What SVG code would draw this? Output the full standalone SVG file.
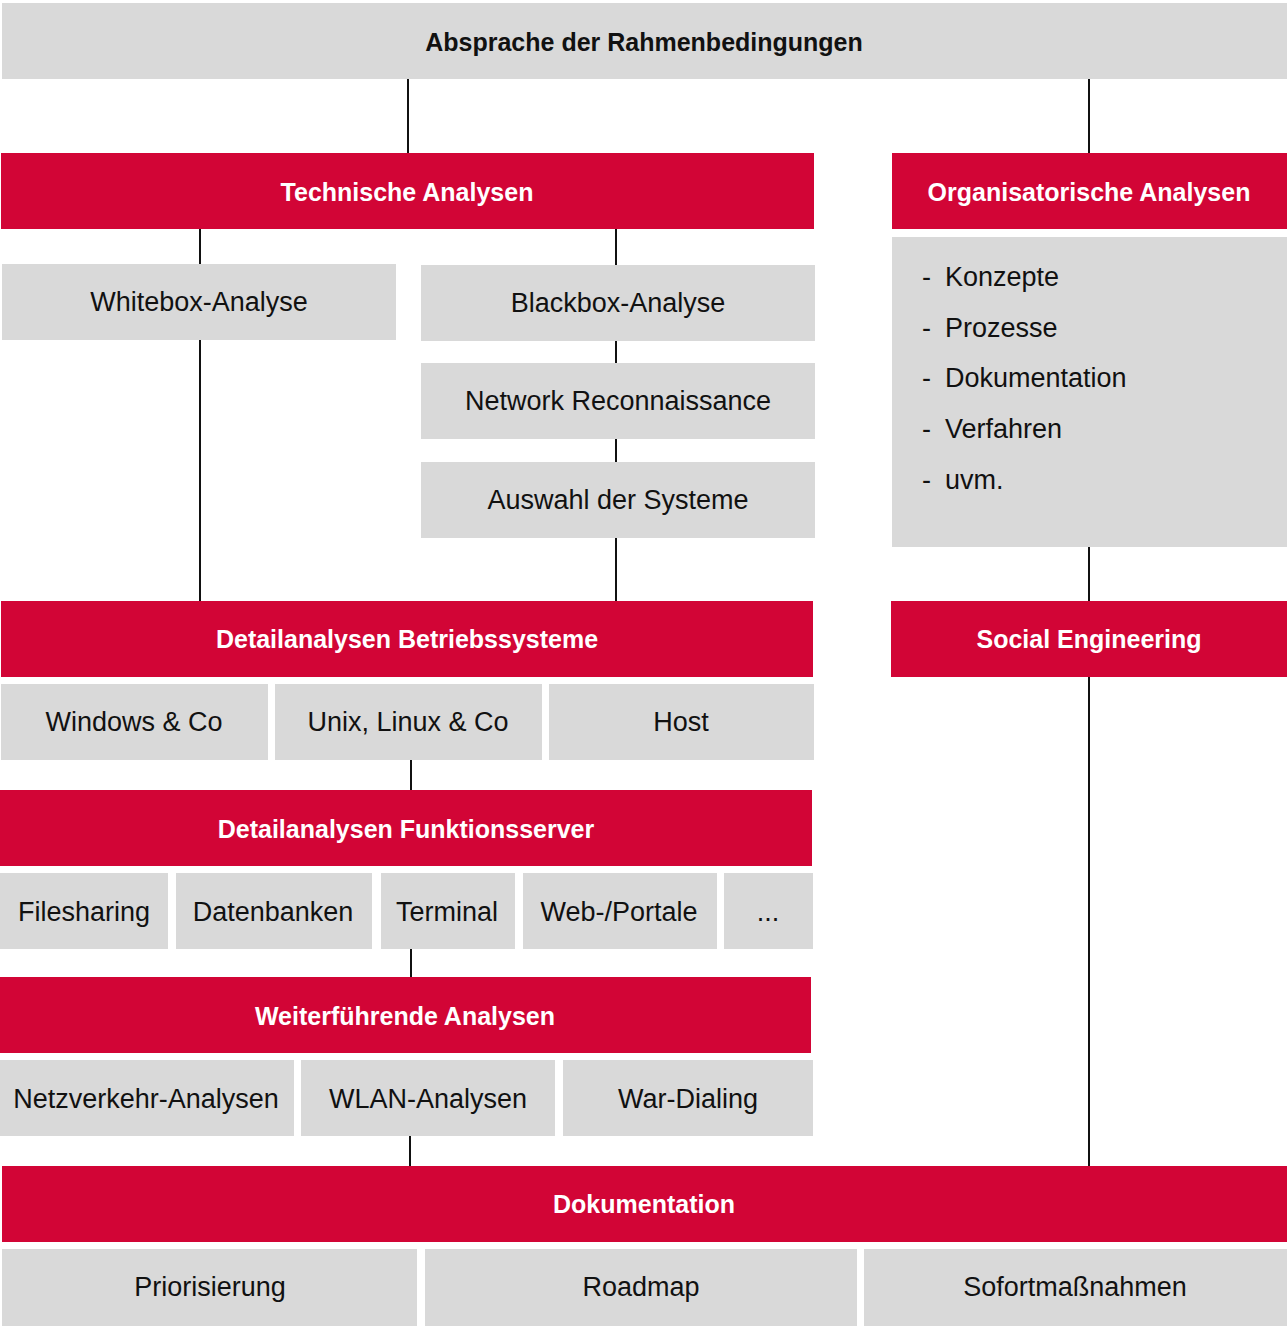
<svg xmlns="http://www.w3.org/2000/svg" width="1287" height="1326" viewBox="0 0 1287 1326">
<style>
.g{fill:#d9d9d9}
.r{fill:#d20536}
.t{font-family:"Liberation Sans",Arial,sans-serif;font-size:27px;fill:#111;text-anchor:middle;dominant-baseline:central}
.h{font-family:"Liberation Sans",Arial,sans-serif;font-size:25px;font-weight:bold;fill:#fff;text-anchor:middle;dominant-baseline:central}
.hb{fill:#111}
.l{font-family:"Liberation Sans",Arial,sans-serif;font-size:27px;fill:#111;dominant-baseline:central}
#connectors line{stroke:#111;stroke-width:2}
</style>
<rect width="1287" height="1326" fill="#fff"/>
<g id="connectors">
<line x1="408" y1="79" x2="408" y2="153"/>
<line x1="1089" y1="79" x2="1089" y2="153"/>
<line x1="200" y1="229" x2="200" y2="264"/>
<line x1="616" y1="229" x2="616" y2="265"/>
<line x1="200" y1="340" x2="200" y2="601"/>
<line x1="616" y1="341" x2="616" y2="363"/>
<line x1="616" y1="439" x2="616" y2="462"/>
<line x1="616" y1="538" x2="616" y2="601"/>
<line x1="1089" y1="547" x2="1089" y2="601"/>
<line x1="1089" y1="677" x2="1089" y2="1166"/>
<line x1="411" y1="760" x2="411" y2="790"/>
<line x1="411" y1="949" x2="411" y2="977"/>
<line x1="410" y1="1136" x2="410" y2="1166"/>
</g>
<g id="n-absprache"><rect class="g" x="2" y="3" width="1285" height="76"/><text class="h hb" x="644" y="42">Absprache der Rahmenbedingungen</text></g>
<g id="n-technisch"><rect class="r" x="1" y="153" width="813" height="76"/><text class="h" x="407" y="192">Technische Analysen</text></g>
<g id="n-organisatorisch"><rect class="r" x="892" y="153" width="395" height="76"/><text class="h" x="1089" y="192">Organisatorische Analysen</text></g>
<g id="n-whitebox"><rect class="g" x="2" y="264" width="394" height="76"/><text class="t" x="199" y="302">Whitebox-Analyse</text></g>
<g id="n-blackbox"><rect class="g" x="421" y="265" width="394" height="76"/><text class="t" x="618" y="303">Blackbox-Analyse</text></g>
<g id="n-network"><rect class="g" x="421" y="363" width="394" height="76"/><text class="t" x="618" y="401">Network Reconnaissance</text></g>
<g id="n-auswahl"><rect class="g" x="421" y="462" width="394" height="76"/><text class="t" x="618" y="500">Auswahl der Systeme</text></g>
<g id="n-orgliste"><rect class="g" x="892" y="237" width="395" height="310"/>
<text class="l" x="922" y="277">-</text><text class="l" x="945" y="277">Konzepte</text>
<text class="l" x="922" y="328">-</text><text class="l" x="945" y="328">Prozesse</text>
<text class="l" x="922" y="378">-</text><text class="l" x="945" y="378">Dokumentation</text>
<text class="l" x="922" y="429">-</text><text class="l" x="945" y="429">Verfahren</text>
<text class="l" x="922" y="480">-</text><text class="l" x="945" y="480">uvm.</text>
</g>
<g id="n-social"><rect class="r" x="891" y="601" width="396" height="76"/><text class="h" x="1089" y="639">Social Engineering</text></g>
<g id="n-betriebssysteme"><rect class="r" x="1" y="601" width="812" height="76"/><text class="h" x="407" y="639">Detailanalysen Betriebssysteme</text></g>
<g id="n-windows"><rect class="g" x="1" y="684" width="267" height="76"/><text class="t" x="134" y="722">Windows &amp; Co</text></g>
<g id="n-unix"><rect class="g" x="275" y="684" width="267" height="76"/><text class="t" x="408" y="722">Unix, Linux &amp; Co</text></g>
<g id="n-host"><rect class="g" x="549" y="684" width="265" height="76"/><text class="t" x="681" y="722">Host</text></g>
<g id="n-funktionsserver"><rect class="r" x="0" y="790" width="812" height="76"/><text class="h" x="406" y="829">Detailanalysen Funktionsserver</text></g>
<g id="n-filesharing"><rect class="g" x="0" y="873" width="168" height="76"/><text class="t" x="84" y="912">Filesharing</text></g>
<g id="n-datenbanken"><rect class="g" x="176" y="873" width="196" height="76"/><text class="t" x="273" y="912">Datenbanken</text></g>
<g id="n-terminal"><rect class="g" x="381" y="873" width="134" height="76"/><text class="t" x="447" y="912">Terminal</text></g>
<g id="n-web"><rect class="g" x="523" y="873" width="194" height="76"/><text class="t" x="619" y="912">Web-/Portale</text></g>
<g id="n-more"><rect class="g" x="724" y="873" width="89" height="76"/><text class="t" x="768" y="912">...</text></g>
<g id="n-weiterfuehrend"><rect class="r" x="0" y="977" width="811" height="76"/><text class="h" x="405" y="1016">Weiterführende Analysen</text></g>
<g id="n-netzverkehr"><rect class="g" x="0" y="1060" width="294" height="76"/><text class="t" x="146" y="1099">Netzverkehr-Analysen</text></g>
<g id="n-wlan"><rect class="g" x="301" y="1060" width="254" height="76"/><text class="t" x="428" y="1099">WLAN-Analysen</text></g>
<g id="n-wardialing"><rect class="g" x="563" y="1060" width="250" height="76"/><text class="t" x="688" y="1099">War-Dialing</text></g>
<g id="n-dokumentation"><rect class="r" x="2" y="1166" width="1285" height="76"/><text class="h" x="644" y="1204">Dokumentation</text></g>
<g id="n-priorisierung"><rect class="g" x="2" y="1249" width="415" height="77"/><text class="t" x="210" y="1287">Priorisierung</text></g>
<g id="n-roadmap"><rect class="g" x="425" y="1249" width="432" height="77"/><text class="t" x="641" y="1287">Roadmap</text></g>
<g id="n-sofort"><rect class="g" x="864" y="1249" width="423" height="77"/><text class="t" x="1075" y="1287">Sofortmaßnahmen</text></g>
</svg>
